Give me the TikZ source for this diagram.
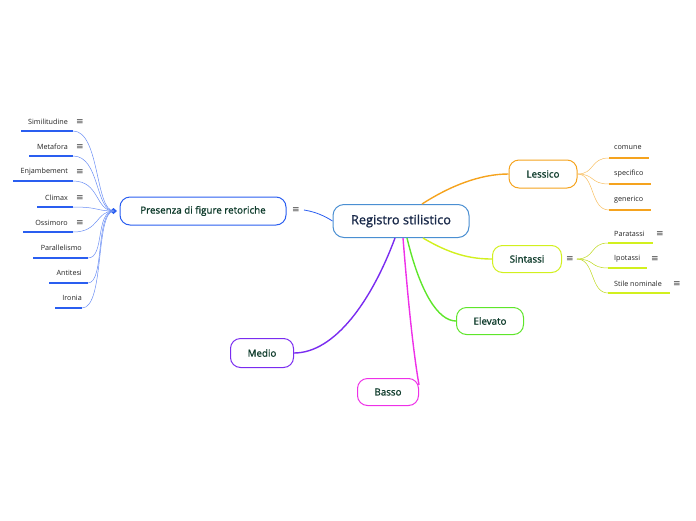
\documentclass[tikz,border=0pt]{standalone}
\usepackage{fontspec}
\setmainfont{Open Sans}
\newfontfamily\semib{Open Sans}[FakeBold=1.2]
\newfontfamily\iconfont{DejaVu Sans}
\definecolor{cblue}{HTML}{2A5EF0}
\definecolor{ccent}{HTML}{4A8FD2}
\definecolor{corange}{HTML}{F5A31E}
\definecolor{clime}{HTML}{D2F01E}
\definecolor{cgreen}{HTML}{5EE62A}
\definecolor{cpurple}{HTML}{7A2CF0}
\definecolor{cmagenta}{HTML}{EE30E8}
\definecolor{ctext}{HTML}{0E3B2B}
\definecolor{cnavy}{HTML}{1A2A4A}
\definecolor{cleaf}{HTML}{222222}
\tikzset{
  topic/.style={draw=#1, line width=1pt, rounded corners=10pt, fill=white, inner sep=0pt,
     font=\semib\fontsize{9.8}{11}\selectfont, text=ctext},
  leaf/.style={font=\fontsize{7.2}{8}\selectfont, text=cleaf, inner sep=0pt},
  icon/.style={font=\iconfont\fontsize{9}{10}\selectfont, text=black!75, inner sep=0pt},
  ul/.style={draw=#1, line width=1.6pt},
  thin/.style={draw=#1, line width=0.5pt},
  mainc/.style={draw=#1, line width=1.4pt}
}
\begin{document}
\begin{tikzpicture}[x=1pt,y=-1pt]
\useasboundingbox (0,0) rectangle (696,520);
% central
\node[draw=ccent, line width=1pt, rounded corners=11pt, fill=white, minimum width=136pt, minimum height=33pt,
      font=\semib\fontsize{12.8}{14}\selectfont, text=cnavy, inner sep=0pt] (c) at (401,221) {Registro stilistico};
% topics
\node[topic=cblue, minimum width=166pt, minimum height=28pt] (pres) at (203,211) {Presenza di figure retoriche};
\node[icon] (presi) at (296,210) {≡};
\node[topic=corange, minimum width=68pt, minimum height=28pt] (les) at (543,174) {Lessico};
\node[topic=clime, minimum width=69pt, minimum height=27pt] (sin) at (527,259) {Sintassi};
\node[icon] (sini) at (570,259) {≡};
\node[topic=cgreen, minimum width=67pt, minimum height=27pt] (ele) at (490,321) {Elevato};
\node[topic=cpurple, minimum width=63pt, minimum height=29pt] (med) at (262,353) {Medio};
\node[topic=cmagenta, minimum width=61pt, minimum height=27pt] (bas) at (388,392) {Basso};
% main connectors
\draw[mainc=corange] ([xshift=21pt]c.north) .. controls (450,186) and (480,174) .. (les.west);
\draw[mainc=clime] ([xshift=22pt]c.south) .. controls (450,254) and (470,259) .. (sin.west);
\draw[mainc=cgreen] ([xshift=6pt]c.south) .. controls (420,292) and (438,321) .. (ele.west);
\draw[mainc=cmagenta] ([xshift=2pt]c.south) .. controls (408,300) and (413,350) .. ([yshift=7pt]bas.east);
\draw[mainc=cpurple] ([xshift=-6pt]c.south) .. controls (372,300) and (335,353) .. (med.east);
\draw[draw=cblue, line width=0.8pt] (c.west) .. controls (320,213) and (310,211) .. ([xshift=4pt]presi.east);
% hub of Presenza
\coordinate (hub) at (114,211);
\fill[cblue] (110,211) -- (113.5,208) -- (117,211) -- (113.5,214) -- cycle;
% left leaves
\foreach \n/\t/\y/\xl/\xr/\ic in {sim/Similitudine/122/21/73/1, met/Metafora/147/29/73/1, enj/Enjambement/172/13/73/1,
   cli/Climax/198/37/73/1, oss/Ossimoro/223/23/73/1}{
  \node[leaf, anchor=east] (\n) at (68,\y) {\t};
  \node[icon] (\n i) at (80,\y) {≡};
  \coordinate (\n L) at (\xl,\y+9);
  \coordinate (\n R) at (\xr,\y+9);
  \draw[ul=cblue] (\n L) -- (\n R);
  \draw[thin=cblue!70] (\n R) .. controls (100,\y+9) and (95,211) .. (hub);
}
\foreach \n/\t/\y/\xl/\xr in {par/Parallelismo/248/33/88, ant/Antitesi/273/49/88, iro/Ironia/298/55/82}{
  \node[leaf, anchor=east] (\n) at (82,\y) {\t};
  \coordinate (\n L) at (\xl,\y+10);
  \coordinate (\n R) at (\xr,\y+10);
  \draw[ul=cblue] (\n L) -- (\n R);
  \draw[thin=cblue!70] (\n R) .. controls (105,\y+10) and (95,211) .. (hub);
}
% Lessico leaves
\foreach \n/\t/\y/\xr in {com/comune/148/649, spe/specifico/174/651, gen/generico/200/651}{
  \node[leaf, anchor=west] (\n) at (614,\y) {\t};
  \coordinate (\n L) at (609,\y+10);
  \coordinate (\n R) at (\xr,\y+10);
  \draw[ul=corange] (\n L) -- (\n R);
  \draw[thin=corange!70] (les.east) .. controls (595,174) and (590,\y+10) .. (\n L);
}
% Sintassi leaves
\foreach \n/\t/\y/\xr/\xi in {para/Paratassi/234/653/660, ipo/Ipotassi/259/647/655, sti/Stile nominale/284/670/677}{
  \node[leaf, anchor=west] (\n) at (614,\y) {\t};
  \node[icon] (\n i) at (\xi,\y) {≡};
  \coordinate (\n L) at (608,\y+9);
  \coordinate (\n R) at (\xr,\y+9);
  \draw[ul=clime] (\n L) -- (\n R);
  \draw[thin=clime!90!black] ([xshift=3pt]sini.east) .. controls (595,259) and (590,\y+9) .. (\n L);
}
\end{tikzpicture}
\end{document}
